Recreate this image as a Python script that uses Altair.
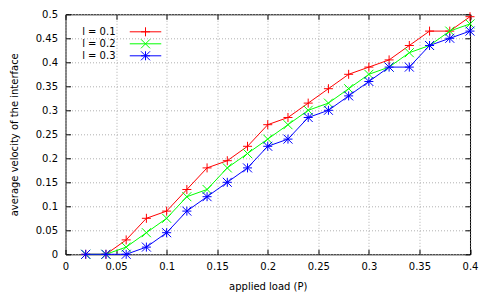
import altair as alt
import pandas as pd

P = [0.02, 0.04, 0.06, 0.08, 0.10, 0.12, 0.14, 0.16, 0.18, 0.20,
     0.22, 0.24, 0.26, 0.28, 0.30, 0.32, 0.34, 0.36, 0.38, 0.40]
v_01 = [0, 0, 0.03, 0.075, 0.09, 0.135, 0.18, 0.195, 0.225, 0.27,
        0.285, 0.315, 0.345, 0.375, 0.39, 0.405, 0.435, 0.465, 0.465, 0.495]
v_02 = [0, 0, 0.015, 0.045, 0.075, 0.12, 0.135, 0.18, 0.21, 0.24,
        0.27, 0.30, 0.315, 0.345, 0.375, 0.39, 0.42, 0.435, 0.465, 0.48]
v_03 = [0, 0, 0, 0.015, 0.045, 0.09, 0.12, 0.15, 0.18, 0.225,
        0.24, 0.285, 0.30, 0.33, 0.36, 0.39, 0.39, 0.435, 0.45, 0.465]
labels = ["l = 0.1", "l = 0.2", "l = 0.3"]
colors = ["#ff0000", "#00ff00", "#0000ff"]
x_ticks = [0, 0.05, 0.1, 0.15, 0.2, 0.25, 0.3, 0.35, 0.4]
y_ticks = [0, 0.05, 0.1, 0.15, 0.2, 0.25, 0.3, 0.35, 0.4, 0.45, 0.5]

PLUS = "M-1,0L1,0M0,-1L0,1"
CROSS = "M-1,-1L1,1M-1,1L1,-1"
STAR = "M-1,0L1,0M0,-1L0,1M-1,-1L1,1M-1,1L1,-1"
markers = [PLUS, CROSS, STAR]
# legend symbols: same markers drawn with a line sample, at a smaller layout size
LPLUS = "M-1.29,0L1.29,0M0,-1.29L0,1.29"
LCROSS = "M-1.29,-1.29L1.29,1.29M-1.29,1.29L1.29,-1.29"
LSTAR = LPLUS + LCROSS
LINE = "M-4.5,0L4.5,0"
legend_paths = [LINE + m for m in [LPLUS, LCROSS, LSTAR]]

rows = []
for lab, vals in zip(labels, [v_01, v_02, v_03]):
    for p, v in zip(P, vals):
        rows.append({"P": p, "v": v, "series": lab})
df = pd.DataFrame(rows)

FONT = "DejaVu Sans"
xscale = alt.Scale(domain=[0, 0.4], nice=False, zero=False)
yscale = alt.Scale(domain=[0, 0.5], nice=False, zero=False)

x_main_axis = alt.Axis(values=x_ticks, orient="bottom", tickSize=0, labelPadding=7, domain=False,
                       grid=True, gridColor="#b0b0b0", gridDash=[1, 2],
                       titlePadding=10, labelFlush=False,
                       labelExpr="format(datum.value, '.2~f')")
y_main_axis = alt.Axis(values=y_ticks, orient="left", tickSize=0, labelPadding=8, domain=False,
                       grid=True, gridColor="#b0b0b0", gridDash=[1, 2],
                       titlePadding=16, labelFlush=False,
                       labelExpr="format(datum.value, '.2~f')")

layers = []
for i, (lab, col, mk) in enumerate(zip(labels, colors, markers)):
    if i == 0:
        xe = alt.X("P:Q", scale=xscale, title="applied load (P)", axis=x_main_axis)
        ye = alt.Y("v:Q", scale=yscale, title="average velocity of the interface", axis=y_main_axis)
    else:
        xe = alt.X("P:Q", scale=xscale, axis=None)
        ye = alt.Y("v:Q", scale=yscale, axis=None)
    layer = alt.Chart(df).transform_filter(alt.datum.series == lab).mark_line(
        color=col, strokeWidth=1,
        point=alt.OverlayMarkDef(shape=mk, size=81, filled=False, color=col, strokeWidth=1, opacity=1),
    ).encode(x=xe, y=ye)
    layers.append(layer)

legend_layer = alt.Chart(df).mark_point(size=0, filled=False, strokeWidth=1, opacity=1).encode(
    x=alt.X("P:Q", scale=xscale, axis=None),
    y=alt.Y("v:Q", scale=yscale, axis=None),
    color=alt.Color("series:N", scale=alt.Scale(domain=labels, range=colors),
                    legend=alt.Legend(title=None, orient="none", legendX=2, legendY=12.5,
                                      symbolSize=49, symbolOffset=73, symbolStrokeWidth=1,
                                      labelFontSize=10, labelFont=FONT, labelColor="#000000",
                                      labelAlign="right", labelOffset={"expr": "-35"},
                                      rowPadding={"expr": "-2.5"}, padding=0)),
    shape=alt.Shape("series:N", scale=alt.Scale(domain=labels, range=legend_paths)),
)
layers.append(legend_layer)

# inward mirror ticks
tick_ax = dict(tickSize=5, labels=False, domain=False, grid=False, title=None,
               tickColor="#000000", offset=-5)
tick_layer1 = alt.Chart(df).mark_point(size=0, opacity=0).encode(
    x=alt.X("P:Q", scale=xscale, axis=alt.Axis(values=x_ticks, orient="top", **tick_ax)),
    y=alt.Y("v:Q", scale=yscale, axis=alt.Axis(values=y_ticks, orient="right", **tick_ax)),
)
tick_layer2 = alt.Chart(df).mark_point(size=0, opacity=0).encode(
    x=alt.X("P:Q", scale=xscale, axis=alt.Axis(values=x_ticks, orient="bottom", **tick_ax)),
    y=alt.Y("v:Q", scale=yscale, axis=alt.Axis(values=y_ticks, orient="left", **tick_ax)),
)
layers += [tick_layer1, tick_layer2]

chart = alt.layer(*layers).resolve_axis(
    x="independent", y="independent"
).properties(
    width=404.5, height=240,
    autosize=alt.AutoSizeParams(type="none"),
    padding={"left": 57.5, "top": 6.3, "right": 12, "bottom": 40},
).configure_view(stroke="#000000", strokeWidth=1).configure_axis(
    labelFont=FONT, titleFont=FONT, labelFontSize=10, titleFontSize=10,
    labelColor="#000000", titleColor="#000000", titleFontWeight="normal",
).configure_legend(labelFont=FONT)

chart.save("out.html", embed_options={"renderer": "svg", "actions": False})
